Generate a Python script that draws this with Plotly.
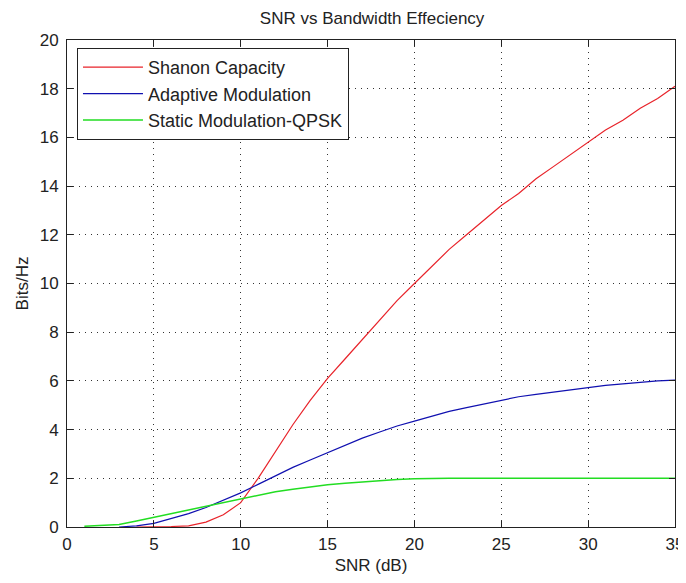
import plotly.graph_objects as go

# values
snr_shannon = list(range(4, 36))
shannon = [0.0, 0.0, 0.02, 0.05, 0.2, 0.5, 1.0, 2.0, 3.1, 4.2, 5.2, 6.1, 6.9, 7.7, 8.5, 9.3,
           10.0, 10.7, 11.4, 12.0, 12.6, 13.2, 13.7, 14.3, 14.8, 15.3, 15.8, 16.3, 16.7,
           17.2, 17.6, 18.1]

snr_adaptive = list(range(3, 36))
adaptive = [0.0, 0.05, 0.15, 0.35, 0.55, 0.8, 1.1, 1.4, 1.75, 2.1, 2.45, 2.75, 3.05, 3.35,
            3.65, 3.9, 4.15, 4.35, 4.55, 4.75, 4.9, 5.05, 5.2, 5.35, 5.45, 5.55, 5.65, 5.75,
            5.82, 5.88, 5.95, 6.0, 6.03]

snr_qpsk = list(range(1, 36))
qpsk = [0.03, 0.05, 0.1, 0.25, 0.4, 0.55, 0.7, 0.85, 1.0, 1.15, 1.3, 1.45, 1.55, 1.65, 1.73,
        1.8, 1.86, 1.91, 1.95, 1.98, 2.0, 2.0, 2.0, 2.0, 2.0, 2.0, 2.0, 2.0, 2.0, 2.0, 2.0,
        2.0, 2.0, 2.0, 2.0]

fig = go.Figure()
fig.add_trace(go.Scatter(x=snr_shannon, y=shannon, mode="lines", name="Shanon Capacity",
                         legendgroup="a", line=dict(color="#e8232a", width=1.2)))
fig.add_trace(go.Scatter(x=snr_adaptive, y=adaptive, mode="lines", name="Adaptive Modulation",
                         legendgroup="b", line=dict(color="#1010b0", width=1.2)))
fig.add_trace(go.Scatter(x=snr_qpsk, y=qpsk, mode="lines", name="Static Modulation-QPSK",
                         legendgroup="c", line=dict(color="#22dd22", width=1.5)))

axis_style = dict(
    showline=True, linecolor="#222", linewidth=1, mirror="ticks",
    ticks="inside", ticklen=6, tickcolor="#222",
    showgrid=True, gridcolor="#333", griddash="1px,5px", gridwidth=1,
    zeroline=False, tickfont=dict(size=17, color="#222"), automargin=False,
)

fig.update_xaxes(range=[0, 35], dtick=5, ticklabelstandoff=2,
                 title=dict(text="SNR (dB)", font=dict(size=17), standoff=9),
                 **axis_style)
fig.update_yaxes(range=[0, 20], dtick=2, ticklabelstandoff=4,
                 title=dict(text="Bits/Hz", font=dict(size=17), standoff=6),
                 **axis_style)

# page has an 8px body margin, so the div is a bit smaller
fig.update_layout(
    width=678, height=567,
    margin=dict(l=59, r=11, t=32, b=48),
    paper_bgcolor="white", plot_bgcolor="white",
    font=dict(family="Liberation Sans, Arial, sans-serif", color="#222"),
    title=dict(text="SNR vs Bandwidth Effeciency", x=0.537, xanchor="center",
               y=0.982, yanchor="middle", font=dict(size=17)),
    legend=dict(x=0.0164, y=0.9836, xanchor="left", yanchor="top",
                bordercolor="#222", borderwidth=1, bgcolor="white",
                font=dict(size=18), tracegroupgap=0, itemwidth=60),
    showlegend=True,
)

fig.write_html("out.html")
